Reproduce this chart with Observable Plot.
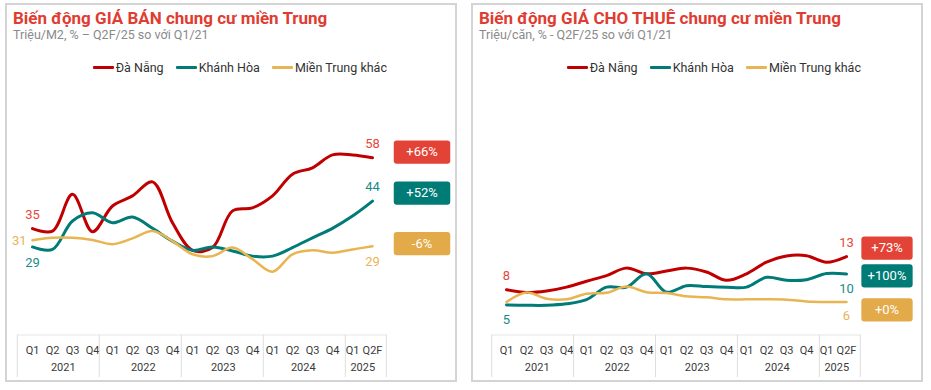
<!DOCTYPE html>
<html><head><meta charset="utf-8">
<script src="https://cdn.jsdelivr.net/npm/d3@7"></script>
<script src="https://cdn.jsdelivr.net/npm/@observablehq/plot@0.6"></script>
<style>
body{margin:0;background:#fff;font-family:Roboto, sans-serif;}
#root{position:relative;width:931px;height:390px;}
.panel{position:absolute;top:3px;width:452px;height:379px;border:2px solid #d4d4d4;box-sizing:border-box;background:#fff;}
.title{position:absolute;left:6px;top:2.5px;font-size:17px;line-height:20px;font-weight:700;color:#e03c31;white-space:nowrap;}
.sub{position:absolute;left:6px;top:21.5px;font-size:12.5px;line-height:15px;color:#8a8a8a;white-space:nowrap;}
.legend{position:absolute;top:54.7px;display:flex;align-items:center;font-size:12.5px;line-height:16px;color:#333;white-space:nowrap;}
.legend .item{display:flex;align-items:center;margin-right:12px;}
.legend .sw{width:21px;height:3px;margin-right:2px;border-radius:1px;}
.chart{position:absolute;left:0;top:75px;}
</style></head><body><div id="root"></div>
<script>
// ---- categories / tick labels ----
const quarters = ["Q1","Q2","Q3","Q4","Q1","Q2","Q3","Q4","Q1","Q2","Q3","Q4","Q1","Q2","Q3","Q4","Q1","Q2F"];
const quarterYears = ["2021","2021","2021","2021","2022","2022","2022","2022","2023","2023","2023","2023","2024","2024","2024","2024","2025","2025"];
const yearLabels = ["2021","2022","2023","2024","2025"];
const seriesNames = ["Đà Nẵng","Khánh Hòa","Miền Trung khác"];

// ---- sale price (Triệu/M2) ----
const saleDaNang   = [34.8, 34.0, 46.0, 33.8, 42.2, 45.5, 50.1, 36.7, 27.7, 28.6, 40.6, 41.6, 45.5, 52.6, 54.7, 58.9, 58.9, 58.0];
const saleKhanhHoa = [28.8, 28.0, 37.3, 40.0, 36.7, 38.6, 34.9, 30.7, 27.7, 28.8, 27.5, 25.8, 25.8, 28.6, 31.8, 34.9, 38.9, 43.8];
const saleOther    = [31.0, 31.8, 31.8, 31.1, 29.7, 31.6, 34.0, 30.7, 26.4, 25.8, 28.6, 24.8, 20.7, 26.4, 27.7, 26.9, 28.0, 29.0];
const saleBadges   = ["+66%","+52%","-6%"];

// ---- rent price (Triệu/căn) ----
const rentDaNang   = [7.6, 7.15, 7.4, 8.05, 9.05, 10.0, 11.25, 10.3, 10.75, 11.25, 10.6, 9.2, 10.3, 12.25, 13.3, 13.35, 12.25, 13.2];
const rentKhanhHoa = [5.05, 5.0, 5.0, 5.25, 5.95, 8.05, 8.05, 10.3, 7.2, 8.3, 8.15, 8.05, 8.05, 9.7, 9.2, 9.3, 10.35, 10.25];
const rentOther    = [5.55, 7.15, 6.1, 6.0, 6.95, 7.1, 8.15, 7.2, 7.05, 6.5, 6.35, 6.0, 6.0, 6.0, 5.95, 5.65, 5.55, 5.55];
const rentBadges   = ["+73%","+100%","+0%"];

// ---- styles ----
const lineColors  = ["#c00000","#007b78","#e8b552"];
const labelColors = ["#e8473d","#1a8a87","#e9b457"];
const badgeColors = ["#e34336","#007b76","#e2aa48"];
const lineWidths  = [3,3,2.5];

const cats = quarters.map((q,i)=>`${q} ${quarterYears[i]}`);
const qOf = new Map(cats.map((c,i)=>[c, quarters[i]]));

function roundRect(w,h,r){
  return {draw(ctx){
    const x0=-w/2,y0=-h/2,x1=w/2,y1=h/2;
    ctx.moveTo(x0+r,y0); ctx.lineTo(x1-r,y0); ctx.arcTo(x1,y0,x1,y0+r,r);
    ctx.lineTo(x1,y1-r); ctx.arcTo(x1,y1,x1-r,y1,r);
    ctx.lineTo(x0+r,y1); ctx.arcTo(x0,y1,x0,y1-r,r);
    ctx.lineTo(x0,y0+r); ctx.arcTo(x0,y0,x0+r,y0,r); ctx.closePath();
  }};
}

function makePanel(cfg){
  const root = document.getElementById("root");
  const p = document.createElement("div");
  p.className = "panel"; p.style.left = cfg.left + "px";
  p.innerHTML = `<div class="title">${cfg.title}</div><div class="sub">${cfg.subtitle}</div>`;
  const leg = document.createElement("div");
  leg.className = "legend"; leg.style.left = cfg.legendLeft + "px";
  seriesNames.forEach((n,i)=>{
    leg.innerHTML += `<div class="item"><span class="sw" style="background:${lineColors[i]}"></span><span>${n}</span></div>`;
  });
  p.appendChild(leg);

  const W = 448, H = 300, mL = cfg.marginLeft, mR = W - cfg.rangeRight, mB = 45.5;
  const bw = (W - mL - mR) / cats.length;
  const last = cats[cats.length-1];

  const marks = [
    Plot.ruleY([0], {stroke:"#e6e6e6"}),
    Plot.axisX({tickSize:0, tickPadding:11.5, tickFormat: d => qOf.get(d), fontSize:11, fill:"#3a3a3a"})
  ];
  yearLabels.forEach(y=>{
    const first = quarterYears.indexOf(y), lastIdx = quarterYears.lastIndexOf(y);
    marks.push(Plot.text([y], {x: () => cats[first], text: d => d, frameAnchor:"bottom", dy:35.5,
      dx: (lastIdx-first)*bw/2, fontSize:11, fill:"#3a3a3a"}));
  });
  cfg.series.forEach((vals,s)=>{
    const rows = cats.map((c,i)=>({c, v: vals[i]}));
    marks.push(Plot.line(rows, {x:"c", y:"v", stroke: lineColors[s], strokeWidth: lineWidths[s], curve:"catmull-rom"}));
  });
  cfg.labels.forEach(l=>{
    const idx = l.end ? cats.length-1 : 0;
    const v = cfg.series[l.s][idx];
    marks.push(Plot.text([v], {x: () => cats[idx], y: d => d, text: d => String(Math.round(d)),
      dx: l.dx || 0, dy: l.dy, textAnchor: l.anchor || "middle", fill: labelColors[l.s], fontSize:13}));
  });
  cfg.badges.forEach((t,s)=>{
    const v = cfg.series[s][cats.length-1];
    const o = {x: () => last, y: d => d, dx: cfg.badgeDx, dy: cfg.badgeDy[s]};
    marks.push(Plot.dot([v], {...o, r:5, symbol: roundRect(cfg.badgeW, cfg.badgeH, 3), fill: badgeColors[s]}));
    marks.push(Plot.text([v], {...o, text: () => t, fill:"#fff", fontSize:13}));
  });

  const chart = Plot.plot({
    width: W, height: H, marginLeft: mL, marginRight: mR, marginTop: 40.5, marginBottom: mB,
    x: {type:"band", domain: cats, padding: 0, label: null},
    y: {domain: cfg.yDomain, axis: null},
    style: {fontFamily:"Roboto", fontSize:"11px", overflow:"visible", background:"transparent"},
    marks
  });
  // year-group separators in the axis area, positioned from the chart's own x scale
  const xs = chart.scale("x");
  const sx = d3.scaleBand(xs.domain, xs.range).paddingInner(xs.paddingInner ?? 0).paddingOuter(xs.paddingOuter ?? 0);
  const yb = H - mB;
  const bounds = yearLabels.map(y => sx(cats[quarterYears.indexOf(y)])).concat([sx(last) + sx.bandwidth()]);
  const sel = d3.select(chart).append("g").attr("stroke","#dedede").attr("stroke-width",1);
  bounds.forEach(b => sel.append("line").attr("x1",b).attr("x2",b).attr("y1",yb).attr("y2",yb+42.5));
  chart.classList.add("chart");
  p.appendChild(chart);
  root.appendChild(p);
}

makePanel({
  left: 5, title: "Biến động GIÁ BÁN chung cư miền Trung",
  subtitle: "Triệu/M2, % – Q2F/25 so với Q1/21",
  legendLeft: 85.7, marginLeft: 10.3, rangeRight: 379.3, yDomain: [0,70],
  series: [saleDaNang, saleKhanhHoa, saleOther],
  labels: [{s:0,end:false,dy:-14},{s:1,end:false,dy:15.5},{s:2,end:false,dy:1,dx:-6,anchor:"end"},
           {s:0,end:true,dy:-14},{s:1,end:true,dy:-14},{s:2,end:true,dy:15.5}],
  badges: saleBadges, badgeW: 56.5, badgeH: 23.3, badgeDx: 49.5, badgeDy: [-5.5,-7.9,-2.8]
});
makePanel({
  left: 471, title: "Biến động GIÁ CHO THUÊ chung cư miền Trung",
  subtitle: "Triệu/căn, % - Q2F/25 so với Q1/21",
  legendLeft: 93.7, marginLeft: 18.7, rangeRight: 387.3, yDomain: [0,36],
  series: [rentDaNang, rentKhanhHoa, rentOther],
  labels: [{s:0,end:false,dy:-14},{s:1,end:false,dy:15},
           {s:0,end:true,dy:-14},{s:1,end:true,dy:15},{s:2,end:true,dy:14}],
  badges: rentBadges, badgeW: 51.3, badgeH: 23.3, badgeDx: 40.5, badgeDy: [-8.4,1.8,7.8]
});
</script></body></html>
